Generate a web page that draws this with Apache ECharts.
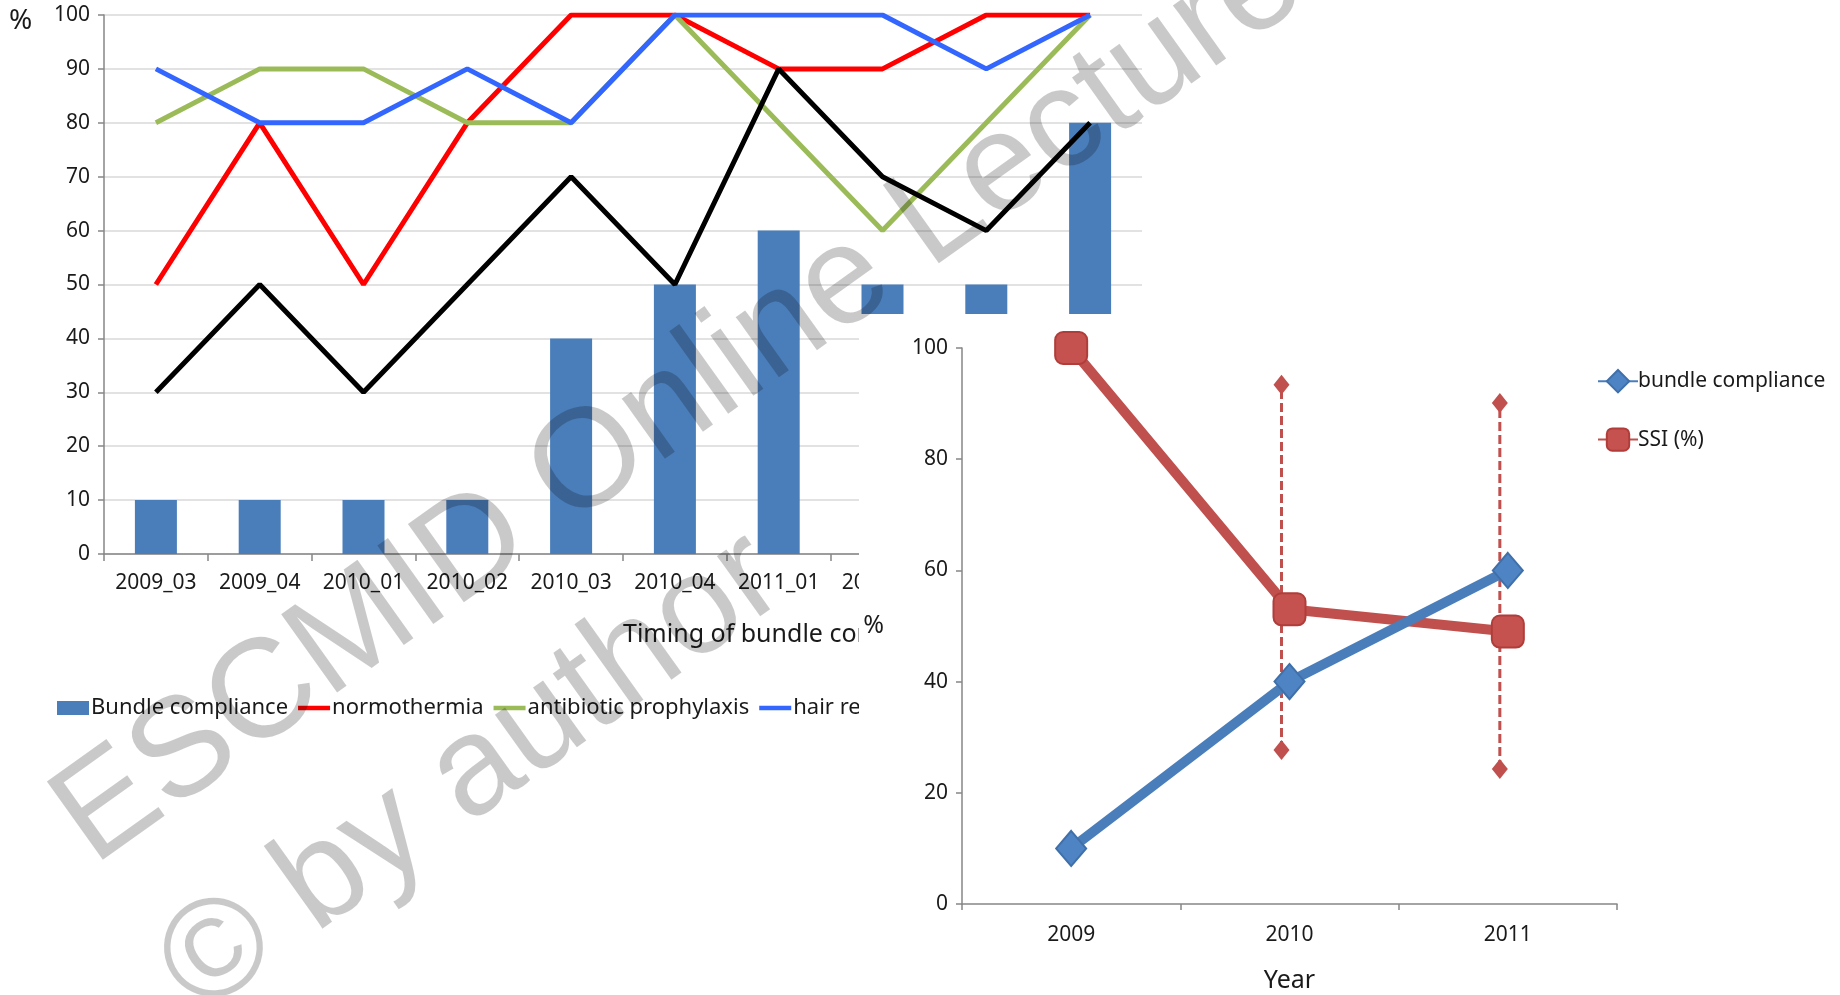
<!DOCTYPE html>
<html>
<head>
<meta charset="utf-8">
<script src="https://cdn.jsdelivr.net/npm/echarts@6/dist/echarts.min.js"></script>
<style>
  html, body { margin: 0; padding: 0; background: #ffffff; }
  #chart { width: 1840px; height: 995px; }
</style>
</head>
<body>
<div id="chart"></div>
<script>
// Quarterly audit of the surgical-site bundle
const quarters = ['2009_03', '2009_04', '2010_01', '2010_02', '2010_03', '2010_04', '2011_01', '2011_02', '2011_03', '2011_04'];
const bundleCompliance = [10, 10, 10, 10, 40, 50, 60, 50, 50, 80];
const normothermia = [50, 80, 50, 80, 100, 100, 90, 90, 100, 100];
const antibioticProphylaxis = [80, 90, 90, 80, 80, 100, 80, 60, 80, 100];
const hairRemoval = [90, 80, 80, 90, 80, 100, 100, 100, 90, 100];
const skinAntisepsis = [30, 50, 30, 50, 70, 50, 90, 70, 60, 80];

// Yearly summary: compliance against SSI rate with its interval
const years = ['2009', '2010', '2011'];
const yearlyCompliance = [10, 40, 60];
const ssiRate = [100, 53, 49];
const ssiLow = [null, 27.7, 24.3];
const ssiHigh = [null, 93.4, 90.1];

const FONT = '"Noto Sans", sans-serif';
const TEXT = '#1a1a1a';
const AXIS = '#868686';
// flat bar used as the legend key of the quarterly lines
const LINE_KEY = 'path://M0,0H32V4.5H0Z';

const chart = echarts.init(document.getElementById('chart'), null, { renderer: 'canvas' });

const errorBars = years
  .map((y, i) => (ssiLow[i] == null ? null : [i, ssiLow[i], ssiHigh[i]]))
  .filter(d => d);

function renderErrorBar(params, api) {
  const lo = api.coord([api.value(0), api.value(1)]);
  const hi = api.coord([api.value(0), api.value(2)]);
  const x = lo[0] - 8;
  const dw = 8, dh = 10;
  const diamond = (cx, cy) => ({
    type: 'polygon',
    shape: { points: [[cx, cy - dh], [cx + dw, cy], [cx, cy + dh], [cx - dw, cy]] },
    style: { fill: '#c0504d' }
  });
  return {
    type: 'group',
    children: [
      {
        type: 'line',
        shape: { x1: x, y1: lo[1], x2: x, y2: hi[1] },
        style: { stroke: '#c0504d', lineWidth: 3, lineDash: [9, 4] }
      },
      diamond(x, lo[1]),
      diamond(x, hi[1])
    ]
  };
}

const option = {
  animation: false,
  backgroundColor: '#ffffff',
  textStyle: { fontFamily: FONT, color: TEXT },
  grid: [
    { left: 104, top: 15, width: 1038, height: 539, outerBoundsMode: 'none' },
    { left: 962, top: 348, width: 655, height: 556, z: 60, outerBoundsMode: 'none' }
  ],
  legend: [
    {
      data: [
        { name: 'Bundle compliance', icon: 'rect' },
        { name: 'normothermia', icon: LINE_KEY },
        { name: 'antibiotic prophylaxis', icon: LINE_KEY },
        { name: 'hair removal', icon: LINE_KEY },
        { name: 'skin antisepsis', icon: LINE_KEY }
      ],
      left: 52, top: 692, itemWidth: 32, itemHeight: 14, itemGap: 10,
      selectedMode: false,
      textStyle: { fontFamily: FONT, fontSize: 22, color: TEXT, padding: [0, 0, 0, -3] }
    },
    {
      data: ['bundle compliance', 'SSI (%)'],
      orient: 'vertical', left: 1592, top: 364, itemWidth: 40, itemHeight: 28, itemGap: 34,
      selectedMode: false, z: 60,
      textStyle: { fontFamily: FONT, fontSize: 21, color: TEXT, padding: [0, 0, 0, -5] }
    }
  ],
  xAxis: [
    {
      gridIndex: 0, type: 'category', data: quarters,
      name: 'Timing of bundle compliance measurement',
      nameLocation: 'middle', nameGap: 68,
      nameTextStyle: { fontFamily: FONT, fontSize: 25, color: TEXT, align: 'left' },
      axisLine: { lineStyle: { color: AXIS, width: 1.5 } },
      axisTick: { show: true, length: 7, lineStyle: { color: AXIS, width: 1.5 } },
      axisLabel: { interval: 0, fontFamily: FONT, fontSize: 21, color: TEXT, margin: 19 }
    },
    {
      gridIndex: 1, type: 'category', data: years, z: 60,
      name: 'Year', nameLocation: 'middle', nameGap: 64,
      nameTextStyle: { fontFamily: FONT, fontSize: 25, color: TEXT },
      axisLine: { lineStyle: { color: AXIS, width: 1.5 } },
      axisTick: { show: true, length: 6, lineStyle: { color: AXIS, width: 1.5 } },
      axisLabel: { fontFamily: FONT, fontSize: 21, color: TEXT, margin: 21 }
    }
  ],
  yAxis: [
    {
      gridIndex: 0, type: 'value', min: 0, max: 100, interval: 10,
      axisLine: { show: true, lineStyle: { color: AXIS, width: 1.5 } },
      axisTick: { show: true, length: 6, lineStyle: { color: AXIS, width: 1.5 } },
      axisLabel: { fontFamily: FONT, fontSize: 21, color: TEXT, margin: 14 },
      splitLine: { show: true, lineStyle: { color: '#d9d9d9', width: 1.5 } }
    },
    {
      gridIndex: 1, type: 'value', min: 0, max: 100, interval: 20, z: 60,
      name: '%', nameLocation: 'middle', nameRotate: 0, nameGap: 78,
      nameTextStyle: { fontFamily: FONT, fontSize: 25, color: TEXT },
      axisLine: { show: true, lineStyle: { color: AXIS, width: 1.5 } },
      axisTick: { show: true, length: 6, lineStyle: { color: AXIS, width: 1.5 } },
      axisLabel: { fontFamily: FONT, fontSize: 21, color: TEXT, margin: 14 },
      splitLine: { show: false }
    }
  ],
  graphic: [
    // left-hand unit label of the quarterly chart
    { type: 'text', x: 9, y: 7, z: 5,
      style: { text: '%', font: '28px "Noto Sans", sans-serif', fill: TEXT } },
    // panel of the yearly chart, laid over the quarterly one
    { type: 'rect', z: 50, shape: { x: 859, y: 314, width: 981, height: 681 },
      style: { fill: '#ffffff' } },
    // watermark
    { type: 'text', x: 71, y: 835, rotation: 0.6196, z: 100,
      style: { text: 'ESCMID Online Lecture Library', font: '140px "Liberation Sans", Arial, sans-serif',
               fill: 'rgba(0,0,0,0.21)', verticalAlign: 'middle', align: 'left' } },
    { type: 'text', x: 177, y: 985, rotation: 0.6196, z: 100,
      style: { text: '\u00a9 by author', font: '140px "Liberation Sans", Arial, sans-serif',
               fill: 'rgba(0,0,0,0.21)', verticalAlign: 'middle', align: 'left' } }
  ],
  series: [
    {
      name: 'Bundle compliance', type: 'bar', xAxisIndex: 0, yAxisIndex: 0,
      data: bundleCompliance, barWidth: 42,
      itemStyle: { color: '#4a7ebb' }
    },
    {
      name: 'normothermia', type: 'line', xAxisIndex: 0, yAxisIndex: 0,
      data: normothermia, symbol: 'none', color: '#ff0000',
      lineStyle: { color: '#ff0000', width: 5 }
    },
    {
      name: 'antibiotic prophylaxis', type: 'line', xAxisIndex: 0, yAxisIndex: 0,
      data: antibioticProphylaxis, symbol: 'none', color: '#9bbb59',
      lineStyle: { color: '#9bbb59', width: 5 }
    },
    {
      name: 'hair removal', type: 'line', xAxisIndex: 0, yAxisIndex: 0,
      data: hairRemoval, symbol: 'none', color: '#3366ff',
      lineStyle: { color: '#3366ff', width: 5 }
    },
    {
      name: 'skin antisepsis', type: 'line', xAxisIndex: 0, yAxisIndex: 0,
      data: skinAntisepsis, symbol: 'none', color: '#000000',
      lineStyle: { color: '#000000', width: 5 }
    },
    {
      name: 'SSI interval', type: 'custom', xAxisIndex: 1, yAxisIndex: 1, z: 61,
      data: errorBars, renderItem: renderErrorBar,
      encode: { x: 0, y: [1, 2] }
    },
    {
      name: 'SSI (%)', type: 'line', xAxisIndex: 1, yAxisIndex: 1, z: 62,
      data: ssiRate, symbol: 'roundRect', symbolSize: 32, color: '#c0504d',
      lineStyle: { color: '#c0504d', width: 10 },
      itemStyle: { color: '#c6524f', borderColor: '#b03d3a', borderWidth: 2 }
    },
    {
      name: 'bundle compliance', type: 'line', xAxisIndex: 1, yAxisIndex: 1, z: 63,
      data: yearlyCompliance, symbol: 'diamond', symbolSize: [30, 35], color: '#4a7ebb',
      lineStyle: { color: '#4a7ebb', width: 10 },
      itemStyle: { color: '#4f84c4', borderColor: '#3f70aa', borderWidth: 2 }
    }
  ]
};

chart.setOption(option);
</script>
</body>
</html>
